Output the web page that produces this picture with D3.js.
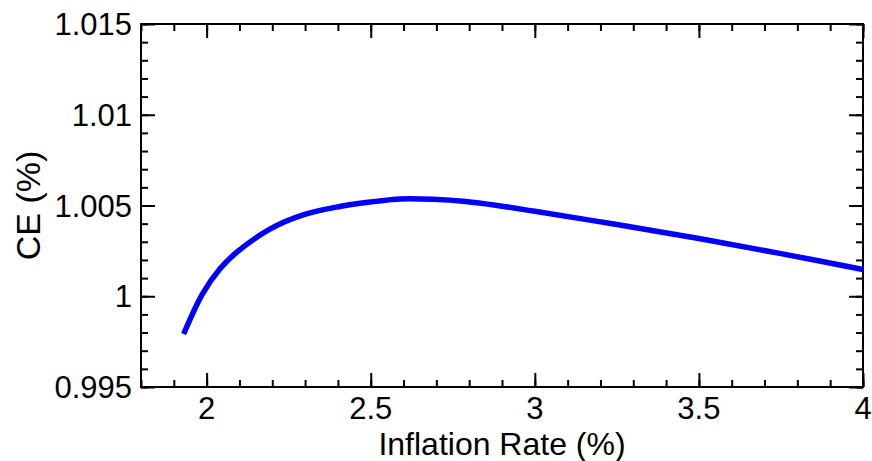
<!DOCTYPE html>
<meta charset="utf-8">
<style>
body { margin: 0; background: #fff; }
text { font-family: "Liberation Sans", Arial, sans-serif; fill: #000; }
</style>
<svg width="872" height="461"></svg>
<script src="https://cdn.jsdelivr.net/npm/d3@7"></script>
<script>

// Data
var inflation = [1.930, 1.987, 2.04, 2.093, 2.194, 2.294, 2.398, 2.498, 2.59, 2.69, 2.79, 2.89, 3.0, 3.25, 3.5, 3.75, 4.0];
var ce = [0.99792, 1.00012, 1.00150, 1.00244, 1.00371, 1.00448, 1.00492, 1.00519, 1.00536, 1.00534, 1.00522, 1.00499, 1.00468, 1.00395, 1.00318, 1.00235, 1.00147];
var xTicks = [2, 2.5, 3, 3.5, 4];
var yTicks = [0.995, 1, 1.005, 1.01, 1.015];

var svg = d3.select("svg"),
    margin = {top: 24, right: 9, bottom: 74, left: 141},
    width = 872 - margin.left - margin.right,
    height = 461 - margin.top - margin.bottom;

var g = svg.append("g").attr("transform", "translate(" + margin.left + "," + margin.top + ")");

var x = d3.scaleLinear().domain([1.8, 4]).range([0, width]);
var y = d3.scaleLinear().domain([0.995, 1.015]).range([height, 0]);

var xMinor = d3.range(18, 41).map(function(d) { return d / 10; });
var yMinor = d3.range(995, 1016).map(function(d) { return d / 1000; });

// minor and major ticks, pointing inward on all sides
function drawTicks(axis, values, len) {
  var gg = g.append("g").call(axis.tickValues(values).tickSize(len).tickFormat(""));
  gg.select(".domain").remove();
  gg.selectAll("line").attr("stroke", "#000").attr("stroke-width", 2);
  return gg;
}

drawTicks(d3.axisBottom(x), xMinor, -7).attr("transform", "translate(0," + height + ")");
drawTicks(d3.axisTop(x), xMinor, -7);
drawTicks(d3.axisBottom(x), xTicks, -14).attr("transform", "translate(0," + height + ")");
drawTicks(d3.axisTop(x), xTicks, -14);
drawTicks(d3.axisLeft(y), yMinor, -7);
drawTicks(d3.axisRight(y), yMinor, -7).attr("transform", "translate(" + width + ",0)");
drawTicks(d3.axisLeft(y), yTicks, -14);
drawTicks(d3.axisRight(y), yTicks, -14).attr("transform", "translate(" + width + ",0)");

// tick labels
g.selectAll(".xl").data(xTicks).enter().append("text")
    .attr("x", function(d) { return x(d); })
    .attr("y", height + 32)
    .attr("text-anchor", "middle")
    .attr("font-size", 31)
    .text(function(d) { return d; });

g.selectAll(".yl").data(yTicks).enter().append("text")
    .attr("x", -9)
    .attr("y", function(d) { return y(d); })
    .attr("dy", "0.36em")
    .attr("text-anchor", "end")
    .attr("font-size", 31)
    .text(function(d) { return d; });

// frame
g.append("rect")
    .attr("width", width).attr("height", height)
    .attr("fill", "none").attr("stroke", "#000").attr("stroke-width", 2);

// curve
var line = d3.line()
    .x(function(d, i) { return x(inflation[i]); })
    .y(function(d) { return y(d); })
    .curve(d3.curveCatmullRom.alpha(0.5));

g.append("path")
    .datum(ce)
    .attr("fill", "none")
    .attr("stroke", "#0000ff")
    .attr("stroke-width", 5.5)
    .attr("d", line);

// axis titles
g.append("text")
    .attr("x", width / 2)
    .attr("y", height + 68)
    .attr("text-anchor", "middle")
    .attr("font-size", 32)
    .text("Inflation Rate (%)");

g.append("text")
    .attr("transform", "translate(-101," + (height / 2) + ") rotate(-90)")
    .attr("text-anchor", "middle")
    .attr("font-size", 34)
    .text("CE (%)");

</script>
